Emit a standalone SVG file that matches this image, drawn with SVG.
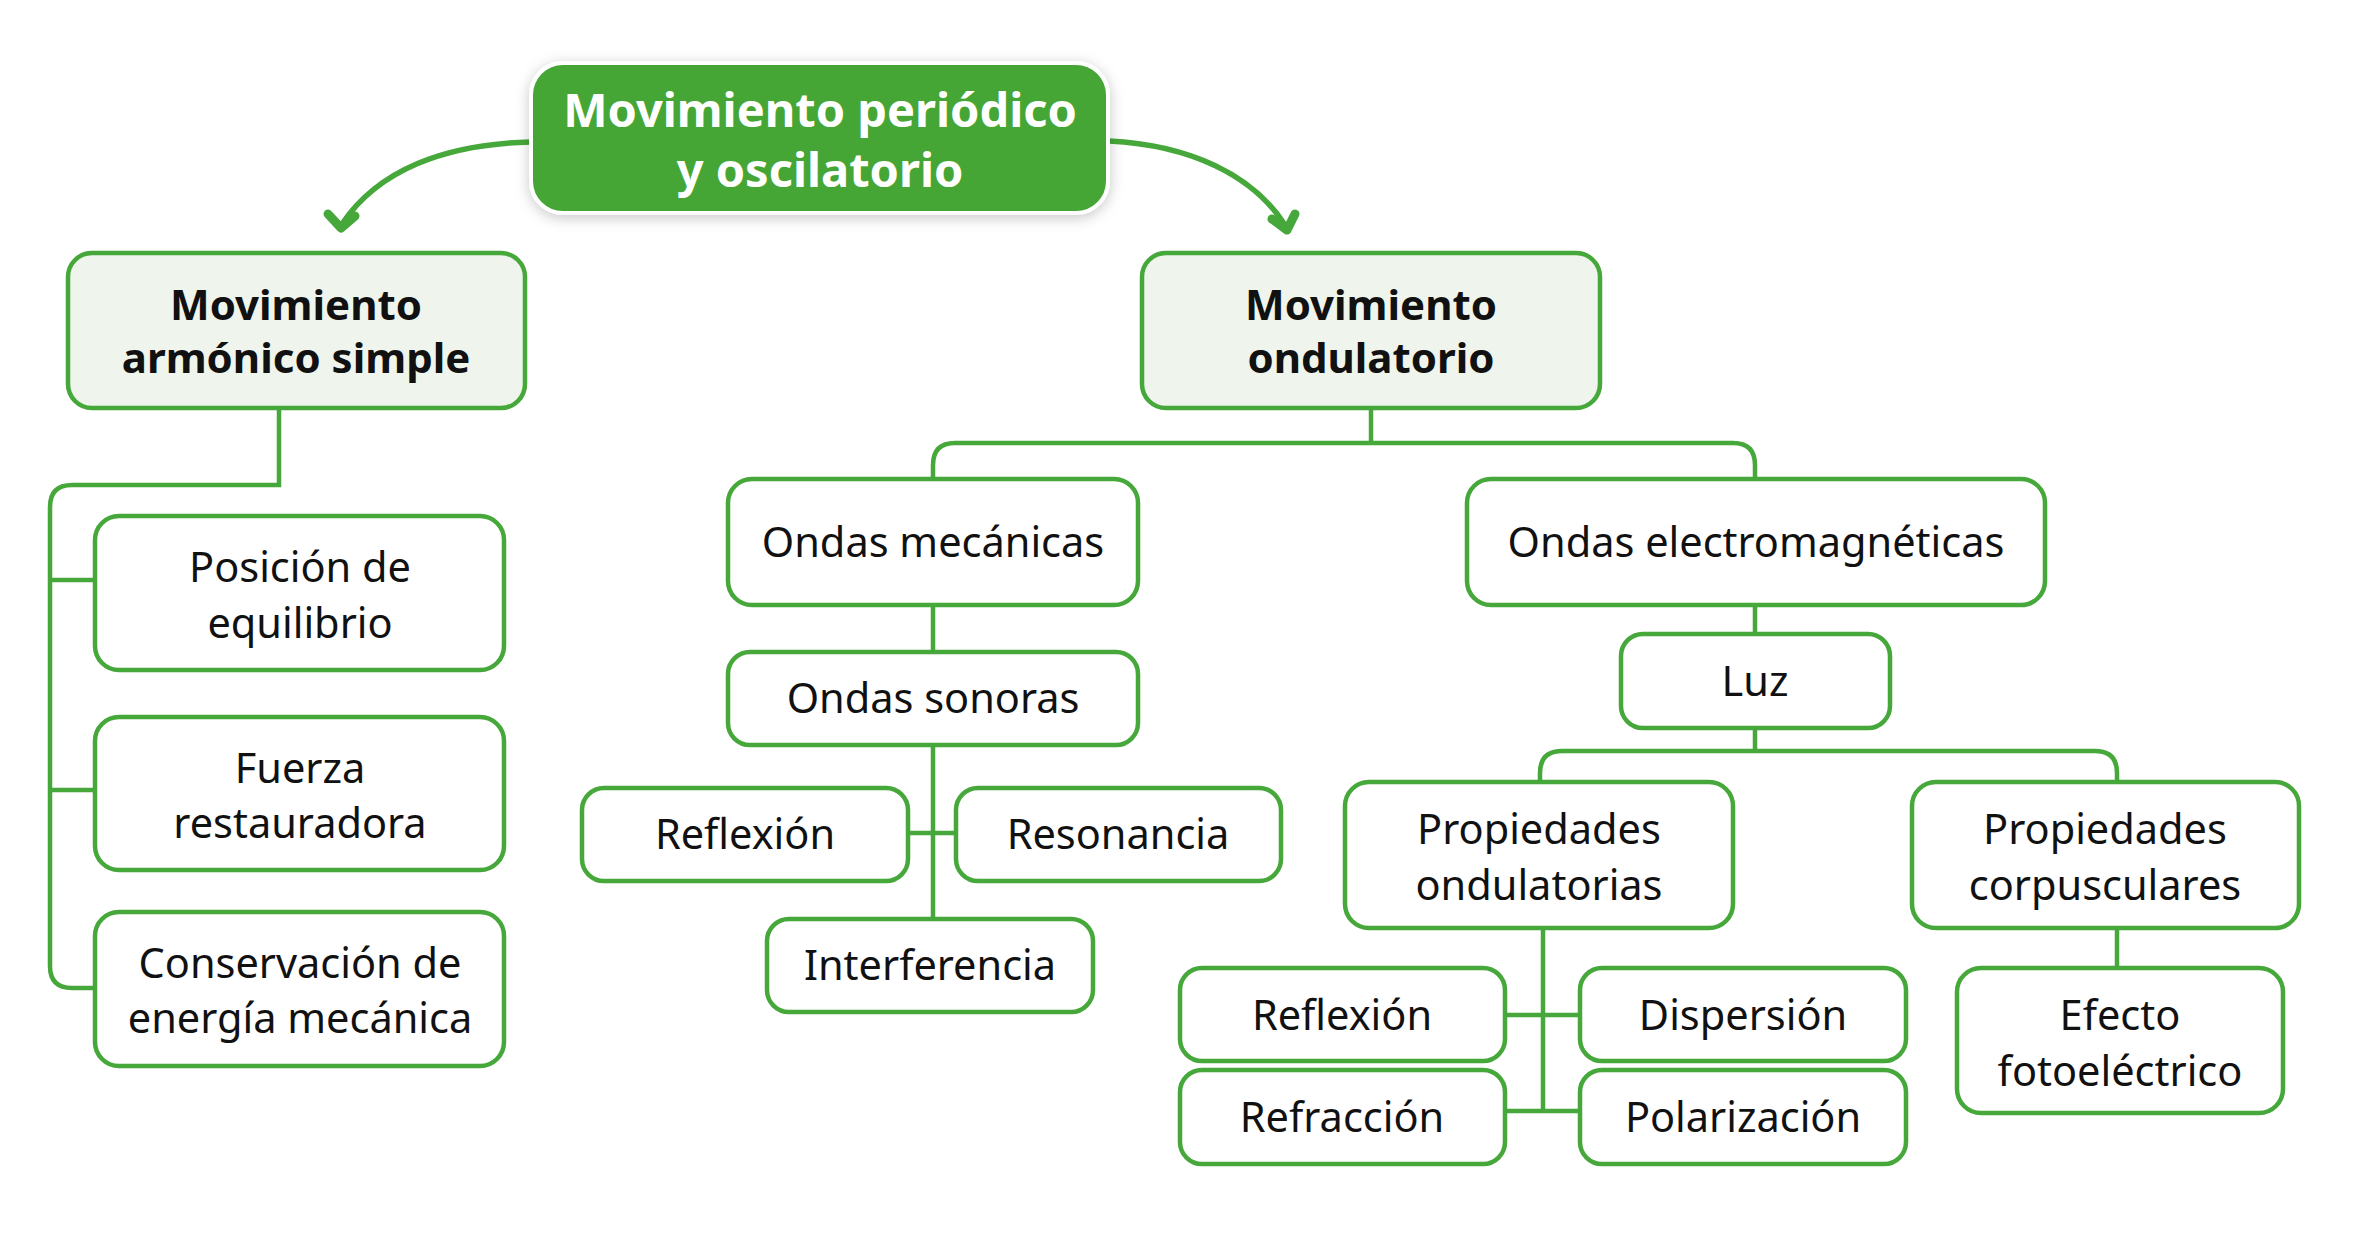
<svg xmlns="http://www.w3.org/2000/svg" width="2354" height="1242" viewBox="0 0 2354 1242">
<defs>
<filter id="sh" x="-20%" y="-30%" width="140%" height="160%">
<feDropShadow dx="0" dy="3" stdDeviation="7" flood-color="#000" flood-opacity="0.22"/>
</filter>
<style>
.box{fill:#fff;stroke:#46a83a;stroke-width:4.5}
.l1{fill:#eff5ec;stroke:#46a83a;stroke-width:4.5}
.root{fill:#44a636;stroke:#fff;stroke-width:4}
.t{font-family:"Noto Sans","Liberation Sans",sans-serif;font-size:41.5px;fill:#111;text-anchor:middle}
.tb{font-family:"Noto Sans","Liberation Sans",sans-serif;font-size:42px;font-weight:bold;fill:#111;text-anchor:middle}
.tr{font-family:"Noto Sans","Liberation Sans",sans-serif;font-size:47px;font-weight:bold;fill:#fff;text-anchor:middle}
.c{fill:none;stroke:#46a83a;stroke-width:4.5}
.a{fill:none;stroke:#46a83a;stroke-width:5.5;stroke-linecap:round}
.ah{fill:none;stroke:#46a83a;stroke-width:9;stroke-linecap:round;stroke-linejoin:round}
</style>
</defs>
<rect width="2354" height="1242" fill="#fff"/>
<g id="connectors">
<path class="a" d="M530,142 C445,144 378,170 342,224"/>
<polyline class="ah" points="328,214 341,228 355,216"/>
<path class="a" d="M1109,141 C1190,145 1253,175 1285,225"/>
<polyline class="ah" points="1272,219 1287,230 1295,214"/>
<path class="c" d="M279,408 V485 H72 Q50,485 50,507 V966 Q50,988 72,988 H95"/>
<path class="c" d="M50,580 H95 M50,790 H95"/>
<path class="c" d="M1371,408 V443"/>
<path class="c" d="M933,479 V465 Q933,443 955,443 H1733 Q1755,443 1755,465 V479"/>
<path class="c" d="M933,605 V652 M933,745 V919 M908,833 H956"/>
<path class="c" d="M1755,605 V634 M1755,728 V751"/>
<path class="c" d="M1540,782 V773 Q1540,751 1562,751 H2095 Q2117,751 2117,773 V782"/>
<path class="c" d="M2117,928 V968"/>
<path class="c" d="M1543,928 V1111 M1505,1015 H1580 M1505,1111 H1580"/>
</g>
<g id="root">
<rect class="root" filter="url(#sh)" x="531" y="63" width="577" height="150" rx="32"/>
<text class="tr" x="820" y="127">Movimiento periódico</text>
<text class="tr" x="820" y="187">y oscilatorio</text>
</g>
<g id="mas">
<rect class="l1" x="68" y="253" width="457" height="155" rx="24"/>
<text class="tb" x="296" y="320">Movimiento</text>
<text class="tb" x="296" y="373">armónico simple</text>
</g>
<g id="mo">
<rect class="l1" x="1142" y="253" width="458" height="155" rx="24"/>
<text class="tb" x="1371" y="320">Movimiento</text>
<text class="tb" x="1371" y="373">ondulatorio</text>
</g>
<g id="posicion">
<rect class="box" x="95" y="516" width="409" height="154" rx="24"/>
<text class="t" x="300" y="582">Posición de</text>
<text class="t" x="300" y="638">equilibrio</text>
</g>
<g id="fuerza">
<rect class="box" x="95" y="717" width="409" height="153" rx="24"/>
<text class="t" x="300" y="783">Fuerza</text>
<text class="t" x="300" y="838">restauradora</text>
</g>
<g id="conservacion">
<rect class="box" x="95" y="912" width="409" height="154" rx="24"/>
<text class="t" x="300" y="978">Conservación de</text>
<text class="t" x="300" y="1033">energía mecánica</text>
</g>
<g id="ondas-mecanicas">
<rect class="box" x="728" y="479" width="410" height="126" rx="24"/>
<text class="t" x="933" y="557">Ondas mecánicas</text>
</g>
<g id="ondas-em">
<rect class="box" x="1467" y="479" width="578" height="126" rx="24"/>
<text class="t" x="1756" y="557">Ondas electromagnéticas</text>
</g>
<g id="ondas-sonoras">
<rect class="box" x="728" y="652" width="410" height="93" rx="22"/>
<text class="t" x="933" y="713">Ondas sonoras</text>
</g>
<g id="reflexion1">
<rect class="box" x="582" y="788" width="326" height="93" rx="22"/>
<text class="t" x="745" y="849">Reflexión</text>
</g>
<g id="resonancia">
<rect class="box" x="956" y="788" width="325" height="93" rx="22"/>
<text class="t" x="1118" y="849">Resonancia</text>
</g>
<g id="interferencia">
<rect class="box" x="767" y="919" width="326" height="93" rx="22"/>
<text class="t" x="930" y="980">Interferencia</text>
</g>
<g id="luz">
<rect class="box" x="1621" y="634" width="269" height="94" rx="22"/>
<text class="t" x="1755" y="696">Luz</text>
</g>
<g id="prop-ondulatorias">
<rect class="box" x="1345" y="782" width="388" height="146" rx="24"/>
<text class="t" x="1539" y="844">Propiedades</text>
<text class="t" x="1539" y="900">ondulatorias</text>
</g>
<g id="prop-corpusculares">
<rect class="box" x="1912" y="782" width="387" height="146" rx="24"/>
<text class="t" x="2105" y="844">Propiedades</text>
<text class="t" x="2105" y="900">corpusculares</text>
</g>
<g id="reflexion2">
<rect class="box" x="1180" y="968" width="325" height="93" rx="22"/>
<text class="t" x="1342" y="1030">Reflexión</text>
</g>
<g id="dispersion">
<rect class="box" x="1580" y="968" width="326" height="93" rx="22"/>
<text class="t" x="1743" y="1030">Dispersión</text>
</g>
<g id="refraccion">
<rect class="box" x="1180" y="1070" width="325" height="94" rx="22"/>
<text class="t" x="1342" y="1132">Refracción</text>
</g>
<g id="polarizacion">
<rect class="box" x="1580" y="1070" width="326" height="94" rx="22"/>
<text class="t" x="1743" y="1132">Polarización</text>
</g>
<g id="efecto">
<rect class="box" x="1957" y="968" width="326" height="145" rx="24"/>
<text class="t" x="2120" y="1030">Efecto</text>
<text class="t" x="2120" y="1086">fotoeléctrico</text>
</g>
</svg>
